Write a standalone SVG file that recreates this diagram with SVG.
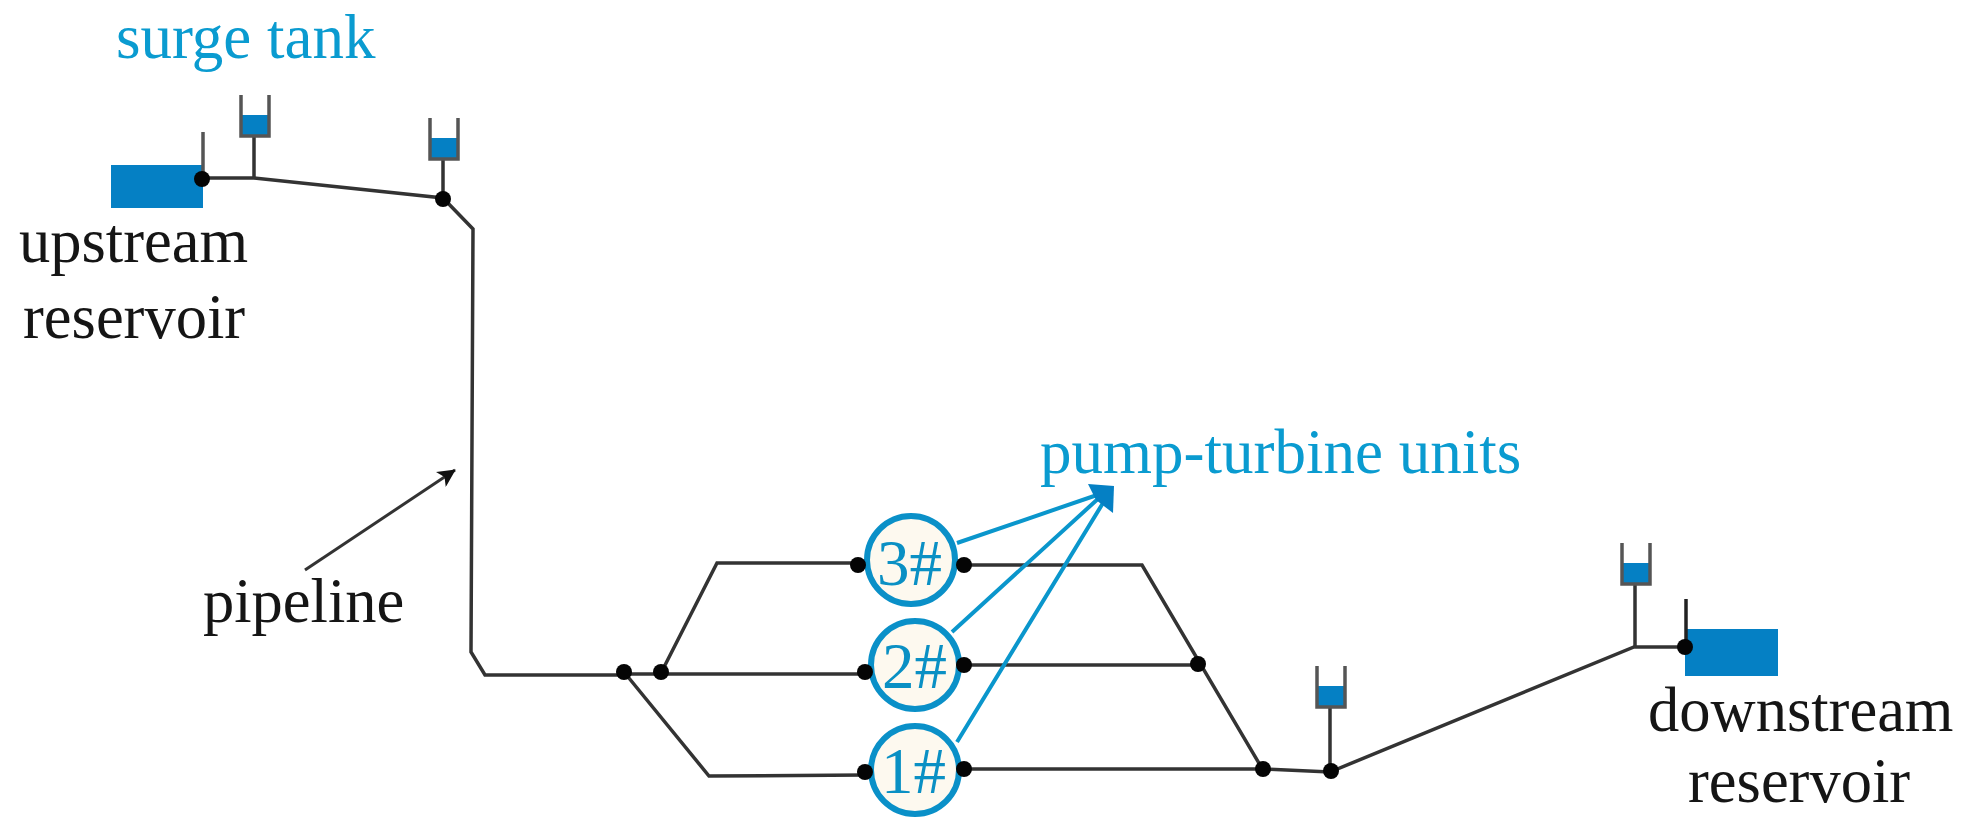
<svg xmlns="http://www.w3.org/2000/svg" width="1964" height="837" viewBox="0 0 1964 837">
<style>
text{font-family:"Liberation Serif","Times New Roman",serif;font-size:62.5px}
.k{fill:#151515}
.b{fill:#0a9bd0;font-size:63px}
.u{font-size:65px;fill:#0a90c4}
.pipe{fill:none;stroke:#333;stroke-width:3.5;stroke-linejoin:miter}
.thin{fill:none;stroke:#333;stroke-width:3}
.lead{fill:none;stroke:#0a96cc;stroke-width:4}
.water{fill:#0580c4}
.wall{fill:none;stroke:#555;stroke-width:3.5}
.unit{fill:#fdf9ef;stroke:#0a90c8;stroke-width:6}
.dot{fill:#050505}
</style>
<defs>
<marker id="ah" viewBox="0 0 10 10" refX="9.5" refY="5" markerWidth="18" markerHeight="18" markerUnits="userSpaceOnUse" orient="auto"><path d="M0 0L10 5L0 10L2.5 5Z" fill="#111"/></marker>
<g id="tank"><rect class="water" x="1" y="20" width="28" height="21"/><path class="wall" d="M1 0V41H29V0"/></g>
</defs>
<g id="connectors">
<path class="pipe" d="M202 178H254L443 198L473 229L471 652L485 675H624"/>
<path class="pipe" d="M661 673L717 563H858"/>
<path class="pipe" d="M624 674H865"/>
<path class="pipe" d="M624 672L709 776L865 775"/>
<path class="pipe" d="M964 565H1142L1263 770"/>
<path class="pipe" d="M964 665H1198"/>
<path class="pipe" d="M964 769H1263L1330 772L1634 647H1685"/>
<path class="pipe" d="M254 135V178M443 160V198M1330 708V771M1635 582V647"/>
<path class="thin" d="M305 570L455 470" marker-end="url(#ah)"/>
<path class="lead" d="M957 543L1100 494M952 632L1100 497M957 742L1103 503"/>
<path d="M1088 484L1114 486L1113 513L1096 500Z" fill="#0580c4"/>
</g>
<g id="upstream-reservoir">
<rect class="water" x="111" y="165" width="92" height="43"/>
<path class="wall" d="M203 132V180"/>
<circle class="dot" cx="202" cy="179" r="8"/>
<text class="k" x="19" y="262">upstream</text>
<text class="k" x="23" y="338">reservoir</text>
</g>
<g id="surge-tank-1"><use href="#tank" x="240" y="95"/></g>
<g id="surge-tank-2"><use href="#tank" x="429" y="118"/><circle class="dot" cx="443" cy="199" r="8"/></g>
<g id="surge-tank-3"><use href="#tank" x="1316" y="666"/><circle class="dot" cx="1331" cy="771" r="8"/></g>
<g id="surge-tank-4"><use href="#tank" x="1621" y="543"/></g>
<g id="surge-tank-label"><text class="b" x="116" y="58">surge tank</text></g>
<g id="pipeline-label"><text class="k" x="203" y="622">pipeline</text></g>
<g id="junctions">
<circle class="dot" cx="624" cy="672" r="8"/>
<circle class="dot" cx="661" cy="672" r="8"/>
<circle class="dot" cx="1198" cy="664" r="8"/>
<circle class="dot" cx="1263" cy="769" r="8"/>
</g>
<g id="unit-3">
<circle class="unit" cx="911" cy="560" r="44"/>
<circle class="dot" cx="858" cy="565" r="8"/><circle class="dot" cx="964" cy="565" r="8"/>
<text class="u" x="877" y="585">3#</text>
</g>
<g id="unit-2">
<circle class="unit" cx="915" cy="665" r="44"/>
<circle class="dot" cx="865" cy="672" r="8"/><circle class="dot" cx="964" cy="665" r="8"/>
<text class="u" x="882" y="688">2#</text>
</g>
<g id="unit-1">
<circle class="unit" cx="915" cy="770" r="44"/>
<circle class="dot" cx="865" cy="772" r="8"/><circle class="dot" cx="964" cy="769" r="8"/>
<text class="u" x="881" y="793">1#</text>
</g>
<g id="units-label"><text class="b" x="1040" y="473">pump-turbine units</text></g>
<g id="downstream-reservoir">
<rect class="water" x="1685" y="629" width="93" height="47"/>
<path class="wall" style="stroke:#222" d="M1686 599V647"/>
<circle class="dot" cx="1685" cy="647" r="8"/>
<text class="k" x="1648" y="731">downstream</text>
<text class="k" x="1688" y="802">reservoir</text>
</g>
</svg>
